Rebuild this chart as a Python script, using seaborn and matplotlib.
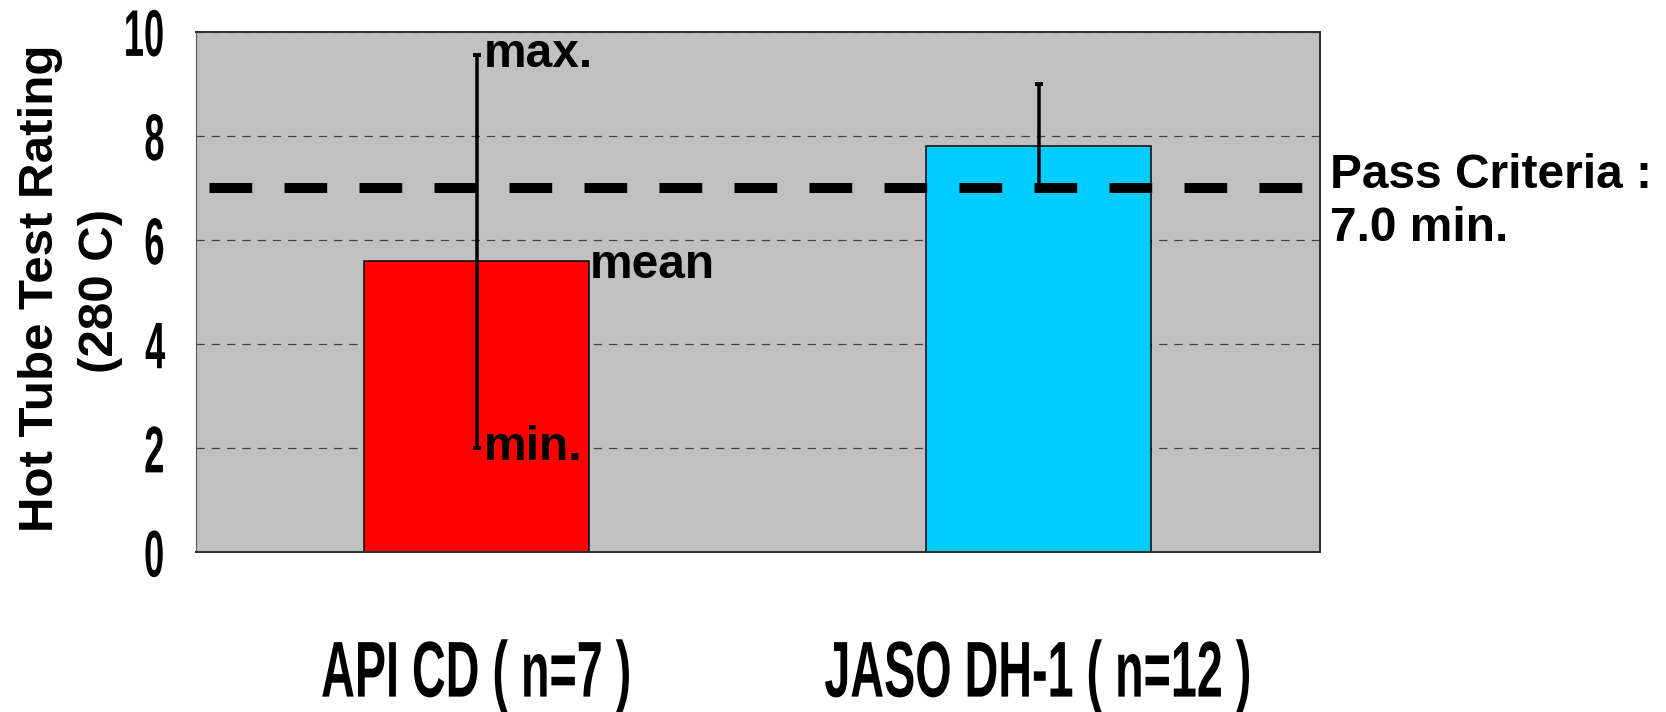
import matplotlib
matplotlib.use("Agg")
import matplotlib.pyplot as plt
import seaborn as sns
import pandas as pd
from matplotlib import font_manager
from matplotlib.patheffects import AbstractPathEffect
from matplotlib.transforms import Affine2D, blended_transform_factory

# Hot tube ratings per oil category
categories = ["API CD ( n=7 )", "JASO DH-1 ( n=12 )"]
mean_rating = [5.6, 7.8]
min_rating = [2.0, 7.0]
max_rating = [9.55, 9.0]
bar_colors = ["#FF0000", "#00CCFF"]
y_ticks = [0, 2, 4, 6, 8, 10]
pass_min = 7.0
ylabel_lines = ["Hot Tube Test Rating", "(280 C)"]
pass_lines = ["Pass Criteria :", "7.0 min."]


class Condense(AbstractPathEffect):
    """Squeeze glyph outlines horizontally to mimic a narrow typeface."""

    def __init__(self, sx, anchor="center"):
        super().__init__()
        self.sx = sx
        self.anchor = anchor

    def draw_path(self, renderer, gc, tpath, affine, rgbFace=None):
        ext = tpath.get_extents()
        if self.anchor == "right":
            cx = ext.x1
        elif self.anchor == "left":
            cx = ext.x0
        else:
            cx = 0.5 * (ext.x0 + ext.x1)
        squeeze = Affine2D().translate(-cx, 0).scale(self.sx, 1).translate(cx, 0)
        renderer.draw_path(gc, tpath, squeeze + affine, rgbFace)


sns.set_theme(style="white")
plt.rcParams["font.family"] = ["Liberation Sans", "DejaVu Sans"]
plt.rcParams["font.weight"] = "bold"
plt.rcParams["text.color"] = "black"
plt.rcParams["axes.labelcolor"] = "black"
plt.rcParams["xtick.color"] = "black"
plt.rcParams["ytick.color"] = "black"
plt.rcParams["lines.scale_dashes"] = False

# narrow face for the axis numbers and category names, if present
installed = {f.name for f in font_manager.fontManager.ttflist}
if "Liberation Sans Narrow" in installed:
    narrow_family = ["Liberation Sans Narrow", "Liberation Sans", "DejaVu Sans"]
    narrow_base = 0.82
else:
    narrow_family = ["Liberation Sans", "DejaVu Sans"]
    narrow_base = 1.0

DPI = 100
PX = 72 / DPI  # points per pixel
NOTE_SIZE = 34.5

fig = plt.figure(figsize=(16.66, 7.12), dpi=DPI)
ax = fig.add_axes([0.11735, 0.22402, 0.67473, 0.73118])
ax.set_facecolor("#C0C0C0")

df = pd.DataFrame({"grade": categories, "mean": mean_rating})
sns.barplot(data=df, x="grade", y="mean", hue="grade", palette=bar_colors,
            width=0.4, edgecolor="black", linewidth=1.5 * PX, saturation=1,
            legend=False, ax=ax, zorder=2)

xs = list(range(len(categories)))
lower = [m - lo for m, lo in zip(mean_rating, min_rating)]
upper = [hi - m for m, hi in zip(mean_rating, max_rating)]

# pass criterion line
ax.axhline(pass_min, color="black", lw=10 * PX,
           linestyle=(61.5 * PX, (42.7 * PX, 32.3 * PX)),
           dash_capstyle="butt", zorder=3)

ax.errorbar(xs, mean_rating, yerr=[lower, upper], fmt="none", ecolor="black",
            elinewidth=3.5 * PX, capsize=4.4 * PX, capthick=4 * PX, zorder=4)

ax.set_xlim(-0.5, 1.5)
ax.set_ylim(0, 10)
ax.set_yticks(y_ticks)
ax.set_yticklabels([str(t) for t in y_ticks])
ax.set_xticks(xs)
ax.set_xticklabels(categories)
ax.set_xticks([-0.5, 0.5, 1.5], minor=True)
ax.set_xlabel("")
ax.set_ylabel("")

ax.set_axisbelow(True)
ax.yaxis.grid(True, color="#404040", lw=1.2 * PX, linestyle=(0, (6, 5)))
ax.xaxis.grid(False)

ax.tick_params(axis="y", length=0, pad=30 * PX, labelsize=47.5, labelcolor="black")
ax.tick_params(axis="x", which="major", length=0, pad=62, labelsize=57, labelcolor="black")
ax.tick_params(axis="x", which="minor", direction="in", length=25 * PX,
               width=2 * PX, color="#606060")

for lbl in ax.get_yticklabels():
    lbl.set_fontfamily(narrow_family)
    lbl.set_path_effects([Condense(0.55 / narrow_base, "right")])
for lbl in ax.get_xticklabels():
    lbl.set_fontfamily(narrow_family)
    lbl.set_path_effects([Condense(0.59 / narrow_base, "center")])

for name, sp in ax.spines.items():
    sp.set_visible(True)
    sp.set_color("#303030")
    sp.set_linewidth(2 * PX)
    sp.set_zorder(5)
ax.spines["left"].set_color("#606060")
ax.spines["left"].set_linewidth(1.2 * PX)

# axis title, two rotated lines
ylab_tf = blended_transform_factory(ax.transAxes, ax.transAxes)
ax.text(-0.1265, 0.508, ylabel_lines[0], transform=ylab_tf, rotation=90,
        rotation_mode="anchor", ha="center", va="baseline", fontsize=35.5,
        fontweight="bold")
ax.text(-0.0735, 0.503, ylabel_lines[1], transform=ylab_tf, rotation=90,
        rotation_mode="anchor", ha="center", va="baseline", fontsize=35.5,
        fontweight="bold")

# range annotations on the first bar
ax.annotate("max.", xy=(xs[0], max_rating[0]), xytext=(7 * PX, -11.4 * PX),
            textcoords="offset points", ha="left", va="baseline",
            fontsize=NOTE_SIZE, fontweight="bold")
ax.annotate("min.", xy=(xs[0], min_rating[0]), xytext=(7 * PX, -11.6 * PX),
            textcoords="offset points", ha="left", va="baseline",
            fontsize=NOTE_SIZE, fontweight="bold")
ax.annotate("mean", xy=(xs[0] + 0.2, mean_rating[0]), xytext=(1 * PX, -17 * PX),
            textcoords="offset points", ha="left", va="baseline",
            fontsize=NOTE_SIZE, fontweight="bold")

# pass criterion note to the right of the plot
side_tf = blended_transform_factory(ax.transAxes, ax.transData)
ax.annotate(pass_lines[0], xy=(1, pass_min), xycoords=side_tf,
            xytext=(10 * PX, 0), textcoords="offset points",
            ha="left", va="baseline", fontsize=NOTE_SIZE, fontweight="bold",
            annotation_clip=False)
ax.annotate(pass_lines[1], xy=(1, pass_min), xycoords=side_tf,
            xytext=(10 * PX, -53.4 * PX), textcoords="offset points",
            ha="left", va="baseline", fontsize=NOTE_SIZE, fontweight="bold",
            annotation_clip=False)

fig.savefig("out.png", dpi=DPI, facecolor="white")
